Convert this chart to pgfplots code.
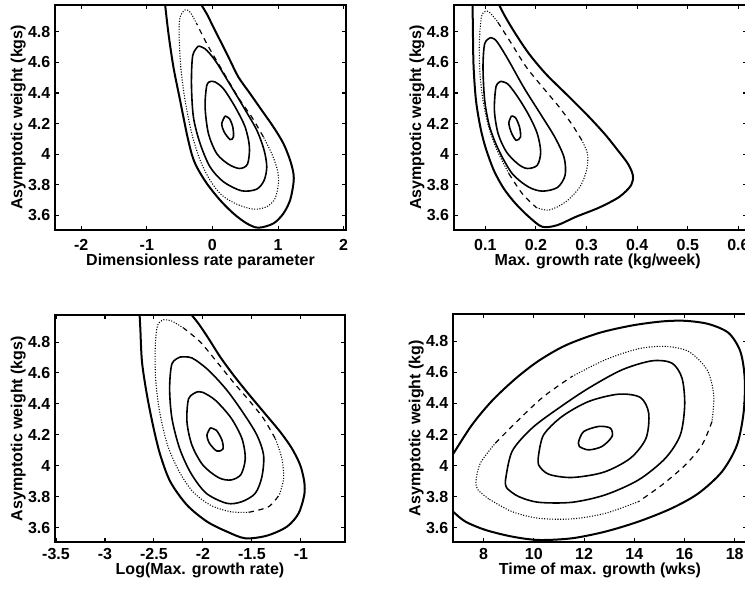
\documentclass[border=0pt]{standalone}
\usepackage{fontspec}
\setmainfont{Liberation Sans}
\usepackage{pgfplots}
\pgfplotsset{compat=1.18}
\pgfplotsset{
  panel/.style={scale only axis, anchor=south west,
    ymin=3.505, ymax=4.975, ytick={3.6,3.8,4,4.2,4.4,4.6,4.8},
    tick align=inside, major tick length=3pt,
    tick style={line width=0.8pt,black},
    axis line style={line width=1.4pt},
    /pgf/number format/assume math mode=true,
    tick label style={font=\fontsize{12}{14}\selectfont\bfseries},
    label style={font=\fontsize{12}{14}\selectfont\bfseries},
    xticklabel style={anchor=base, yshift=-15pt},
    xlabel style={at={(axis description cs:0.5,0)}, anchor=base, yshift=-26.5pt},
    ylabel style={at={(axis description cs:0,0.5)}, anchor=center, yshift=27.5pt},
    clip=true},
  outer/.style={black, line width=1.5pt, smooth, tension=0.5},
  sol/.style={black, line width=1.2pt, smooth, tension=0.5},
  dts/.style={black, line width=0.8pt, dash pattern=on 0.8pt off 1.2pt, smooth, tension=0.5},
  dsh/.style={black, line width=0.9pt, dash pattern=on 4pt off 3.5pt, smooth, tension=0.5},
}
\begin{document}
\begin{tikzpicture}
\useasboundingbox (0pt,0pt) rectangle (558.75pt,-441.75pt);
% ---------------- Panel 1 ----------------
\begin{axis}[panel, at={(41.25pt,-172.5pt)}, width=218.25pt, height=168.75pt,
  xmin=-2.4, xmax=2.036, xtick={-2,-1,0,1,2},
  xlabel={Dimensionless rate parameter}, ylabel={Asymptotic weight (kgs)}]
\addplot[outer] coordinates {(-0.74,5.05) (-0.72,4.972) (-0.67,4.787) (-0.595,4.570) (-0.493,4.352) (-0.391,4.134) (-0.315,4.0) (-0.239,3.917) (-0.086,3.809) (0.117,3.700) (0.320,3.613) (0.523,3.548) (0.701,3.520) (0.930,3.548) (1.082,3.613) (1.184,3.700) (1.235,3.809) (1.235,3.874) (1.184,3.961) (1.082,4.070) (0.930,4.178) (0.752,4.287) (0.574,4.396) (0.396,4.504) (0.269,4.613) (0.142,4.722) (0.015,4.830) (-0.086,4.917) (-0.163,4.972) (-0.27,5.05)};
\addplot[dts] coordinates {(-0.239,4.852) (-0.340,4.928) (-0.417,4.943) (-0.493,4.896) (-0.508,4.787) (-0.483,4.570) (-0.417,4.352) (-0.315,4.135) (-0.188,3.961) (-0.036,3.830) (0.142,3.733) (0.371,3.674) (0.625,3.641) (0.828,3.657) (0.955,3.711) (1.006,3.809) (0.991,3.896) (0.904,4.004) (0.777,4.113)};
\addplot[dsh] coordinates {(0.777,4.113) (0.600,4.243) (0.422,4.352) (0.269,4.461) (0.091,4.591) (-0.086,4.722) (-0.239,4.852)};
\addplot[sol] coordinates {(-0.213,4.707) (-0.300,4.646) (-0.320,4.461) (-0.290,4.243) (-0.188,4.070) (-0.036,3.917) (0.168,3.820) (0.447,3.761) (0.676,3.772) (0.788,3.830) (0.828,3.917) (0.788,4.026) (0.676,4.157) (0.473,4.309) (0.244,4.472) (0.041,4.613) (-0.112,4.689) (-0.213,4.707)};
\addplot[sol] coordinates {(-0.025,4.476) (-0.086,4.450) (-0.112,4.309) (-0.061,4.135) (0.066,4.004) (0.244,3.935) (0.412,3.907) (0.534,3.935) (0.564,4.048) (0.498,4.178) (0.346,4.309) (0.168,4.428) (0.041,4.472) (-0.025,4.476)};
\addplot[sol] coordinates {(0.193,4.250) (0.142,4.200) (0.178,4.146) (0.269,4.096) (0.320,4.113) (0.310,4.178) (0.259,4.233) (0.193,4.250)};
\end{axis}
% ---------------- Panel 2 ----------------
\begin{axis}[panel, at={(340.275pt,-172.5pt)}, width=220pt, height=168.75pt,
  xmin=0.0375, xmax=0.617, xtick={0.1,0.2,0.3,0.4,0.5,0.6},
  xlabel={Max. growth rate (kg/week)}, ylabel={Asymptotic weight (kgs)},
  xlabel style={xshift=-2pt}]
\addplot[outer] coordinates {(0.074,5.05) (0.0748,4.972) (0.0755,4.787) (0.0768,4.570) (0.0815,4.352) (0.0901,4.178) (0.1000,4.048) (0.1166,3.896) (0.1364,3.776) (0.1596,3.678) (0.1861,3.591) (0.2126,3.526) (0.2424,3.537) (0.2788,3.591) (0.3252,3.652) (0.3649,3.722) (0.3881,3.798) (0.3914,3.863) (0.3815,3.939) (0.3616,4.026) (0.3351,4.135) (0.2987,4.265) (0.2589,4.396) (0.2192,4.526) (0.1861,4.657) (0.1596,4.787) (0.1397,4.896) (0.1278,4.972) (0.1156,5.05)};
\addplot[dts] coordinates {(0.1232,4.870) (0.1079,4.928) (0.1000,4.933) (0.0921,4.896) (0.0881,4.722) (0.0894,4.526) (0.0954,4.352) (0.1066,4.178) (0.1232,4.026) (0.1464,3.874)};
\addplot[dsh] coordinates {(0.1464,3.874) (0.1728,3.743) (0.2007,3.652)};
\addplot[dts] coordinates {(0.2007,3.652) (0.2258,3.635) (0.2589,3.689) (0.2868,3.787) (0.3000,3.896) (0.3020,4.000) (0.2907,4.091)};
\addplot[dsh] coordinates {(0.2907,4.091) (0.2709,4.196) (0.2457,4.309) (0.2139,4.435) (0.1808,4.570) (0.1497,4.733) (0.1232,4.870)};
\addplot[sol] coordinates {(0.1099,4.761) (0.0987,4.722) (0.0954,4.570) (0.0987,4.352) (0.1086,4.178) (0.1265,4.026) (0.1530,3.874) (0.1848,3.787) (0.2126,3.759) (0.2424,3.783) (0.2576,3.863) (0.2556,3.978) (0.2377,4.109) (0.2093,4.261) (0.1762,4.435) (0.1430,4.630) (0.1212,4.743) (0.1099,4.761)};
\addplot[sol] coordinates {(0.1311,4.476) (0.1212,4.443) (0.1179,4.287) (0.1252,4.135) (0.1417,4.015) (0.1649,3.935) (0.1828,3.907) (0.2026,3.928) (0.2093,4.015) (0.2026,4.135) (0.1861,4.254) (0.1649,4.370) (0.1450,4.457) (0.1311,4.476)};
\addplot[sol] coordinates {(0.1517,4.250) (0.1464,4.204) (0.1517,4.139) (0.1609,4.091) (0.1695,4.113) (0.1675,4.178) (0.1596,4.239) (0.1517,4.250)};
\end{axis}
% ---------------- Panel 3 ----------------
\begin{axis}[panel, at={(41.25pt,-406.725pt)}, width=217.5pt, height=170.5pt,
  xmin=-3.51, xmax=-0.55, xtick={-3.5,-3,-2.5,-2,-1.5,-1},
  xticklabel style={yshift=2.25pt}, xlabel style={yshift=2.25pt},
  xlabel={Log(Max. growth rate)}, ylabel={Asymptotic weight (kgs)}]
\addplot[outer] coordinates {(-2.652,5.05) (-2.646,4.972) (-2.639,4.886) (-2.622,4.671) (-2.571,4.456) (-2.503,4.241) (-2.435,4.069) (-2.333,3.897) (-2.163,3.746) (-1.959,3.639) (-1.755,3.574) (-1.568,3.531) (-1.347,3.548) (-1.143,3.606) (-1.024,3.692) (-0.966,3.811) (-0.966,3.897) (-1.007,4.004) (-1.092,4.112) (-1.211,4.219) (-1.381,4.348) (-1.551,4.477) (-1.687,4.585) (-1.823,4.703) (-1.942,4.822) (-2.044,4.918) (-2.112,4.972) (-2.21,5.05)};
\addplot[dts] coordinates {(-2.197,4.890) (-2.316,4.935) (-2.401,4.944) (-2.463,4.908) (-2.486,4.778) (-2.483,4.563) (-2.442,4.348) (-2.361,4.133) (-2.241,3.961) (-2.102,3.832) (-1.925,3.746) (-1.721,3.703) (-1.534,3.699)};
\addplot[dsh] coordinates {(-1.534,3.699) (-1.330,3.735) (-1.218,3.815)};
\addplot[dts] coordinates {(-1.218,3.815) (-1.177,3.918) (-1.194,4.047) (-1.262,4.176)};
\addplot[dsh] coordinates {(-1.262,4.176) (-1.381,4.305) (-1.517,4.413) (-1.687,4.538) (-1.857,4.671) (-2.027,4.800) (-2.197,4.890)};
\addplot[sol] coordinates {(-2.231,4.703) (-2.316,4.660) (-2.340,4.499) (-2.316,4.305) (-2.238,4.112) (-2.122,3.951) (-1.966,3.822) (-1.755,3.757) (-1.602,3.768) (-1.466,3.822) (-1.398,3.929) (-1.381,4.069) (-1.449,4.198) (-1.585,4.338) (-1.755,4.488) (-1.942,4.617) (-2.112,4.697) (-2.231,4.703)};
\addplot[sol] coordinates {(-2.061,4.477) (-2.146,4.434) (-2.163,4.284) (-2.112,4.133) (-2.000,4.004) (-1.840,3.923) (-1.714,3.908) (-1.612,3.944) (-1.568,4.047) (-1.602,4.176) (-1.714,4.310) (-1.874,4.424) (-2.003,4.475) (-2.061,4.477)};
\addplot[sol] coordinates {(-1.925,4.245) (-1.959,4.198) (-1.932,4.144) (-1.857,4.095) (-1.796,4.108) (-1.806,4.166) (-1.864,4.230) (-1.925,4.245)};
\end{axis}
% ---------------- Panel 4 ----------------
\begin{axis}[panel, at={(339.75pt,-406.725pt)}, width=220.5pt, height=171pt,
  xmin=6.78, xmax=18.49, xtick={8,10,12,14,16,18},
  xticklabel style={yshift=2.25pt}, xlabel style={yshift=2.25pt},
  xlabel={Time of max. growth (wks)}, ylabel={Asymptotic weight (kg)}]
\addplot[outer] coordinates {(6.5,3.74) (6.778,3.703) (7.270,3.639) (8.066,3.585) (9.129,3.542) (10.191,3.520) (11.519,3.531) (12.847,3.574) (14.175,3.639) (15.503,3.725) (16.566,3.822) (17.495,3.961) (18.093,4.133) (18.359,4.348) (18.398,4.563) (18.226,4.735) (17.761,4.854) (16.964,4.912) (16.035,4.933) (15.105,4.929) (13.910,4.903) (12.582,4.854) (11.254,4.774) (10.191,4.675) (9.262,4.559) (8.332,4.417) (7.535,4.262) (6.778,4.073) (6.5,4.004)};
\addplot[dts] coordinates {(8.199,3.785) (7.774,3.843) (7.695,3.897) (7.867,4.015) (8.465,4.144)};
\addplot[dsh] coordinates {(8.465,4.144) (9.394,4.295) (10.390,4.445) (11.519,4.574)};
\addplot[dts] coordinates {(11.519,4.574) (12.847,4.682) (14.175,4.753) (15.238,4.768) (16.167,4.735) (16.898,4.617) (17.163,4.456) (17.097,4.284)};
\addplot[dsh] coordinates {(17.097,4.284) (16.699,4.133) (16.035,4.004) (15.105,3.875) (14.175,3.768)};
\addplot[dts] coordinates {(14.175,3.768) (12.847,3.692) (11.519,3.656) (10.191,3.660) (9.129,3.703) (8.199,3.785)};
\addplot[sol] coordinates {(8.863,3.897) (9.129,4.090) (9.926,4.241) (10.988,4.370) (12.183,4.499) (13.511,4.617) (14.706,4.675) (15.503,4.660) (15.902,4.563) (16.008,4.391) (15.835,4.198) (15.238,4.047) (14.175,3.908) (12.847,3.811) (11.519,3.763) (10.191,3.763) (9.394,3.800) (8.930,3.854) (8.863,3.897)};
\addplot[sol] coordinates {(10.191,4.069) (10.390,4.198) (11.121,4.316) (12.183,4.413) (13.378,4.460) (14.241,4.439) (14.574,4.338) (14.467,4.176) (13.843,4.047) (12.781,3.957) (11.519,3.923) (10.590,3.944) (10.191,4.004) (10.191,4.069)};
\addplot[sol] coordinates {(11.785,4.155) (11.984,4.219) (12.582,4.252) (13.046,4.241) (13.113,4.187) (12.714,4.123) (12.183,4.101) (11.811,4.123) (11.785,4.155)};
\end{axis}
\end{tikzpicture}
\end{document}
